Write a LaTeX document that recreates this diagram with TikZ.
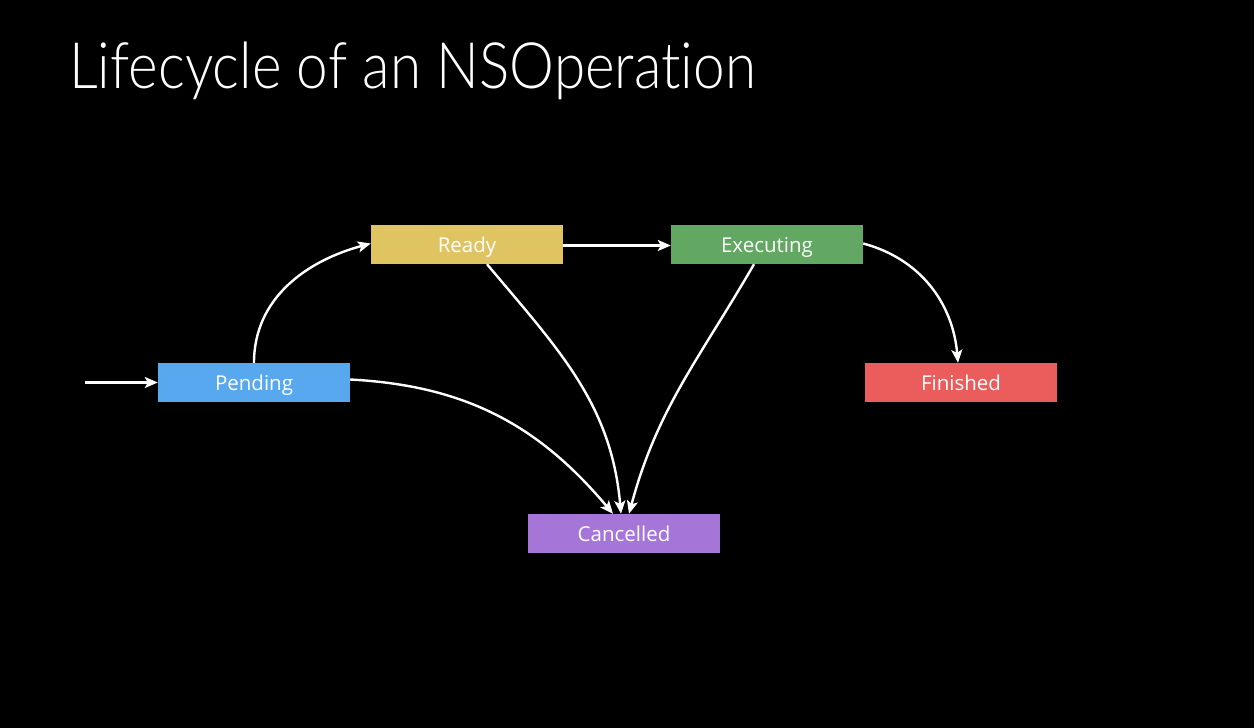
\documentclass[tikz,border=0pt]{standalone}
\usepackage{fontspec}
\setmainfont{Open Sans}
\newfontfamily\titlefont{Lato}[UprightFont=* Light, Ligatures=NoCommon]
\usetikzlibrary{arrows.meta}
\definecolor{pendingblue}{HTML}{58A8F0}
\definecolor{readyyellow}{HTML}{E0C462}
\definecolor{execgreen}{HTML}{63A862}
\definecolor{finishedred}{HTML}{EB5C5C}
\definecolor{cancelpurple}{HTML}{A575D8}
\tikzset{
  state/.style={minimum width=192pt, minimum height=39pt, inner sep=0pt,
    text height=16pt, text depth=0pt,
    text=white, font=\fontsize{20.5}{24}\selectfont},
  flow/.style={draw=white, line width=2.4pt,
    -{Stealth[length=13pt, width=11pt, inset=3pt]}},
}
\begin{document}
\begin{tikzpicture}[x=1pt, y=-1pt]
  \fill[black] (0,0) rectangle (1254,728);
  \node[anchor=base west, text=white, inner sep=0pt,
        font=\titlefont\fontsize{64}{70}\selectfont] (title) at (69,88)
        {\scalebox{0.885}[1]{Lifecycle of an NSOperation}};

  \node[state, fill=readyyellow]   (ready)     at (467,244.5) {Ready};
  \node[state, fill=execgreen]     (executing) at (767,244.5) {Executing};
  \node[state, fill=pendingblue]   (pending)   at (254,382.5) {Pending};
  \node[state, fill=finishedred]   (finished)  at (961,382.5) {Finished};
  \node[state, fill=cancelpurple]  (cancelled) at (624,533.5) {Cancelled};

  \coordinate (entry) at (85,382.5);
  \draw[flow] (entry) -- (pending.west);
  \draw[flow] (pending.north) to[out=90, in=195] ([yshift=1pt]ready.west);
  \draw[flow] ([yshift=-1pt]ready.east) -- ([yshift=-1pt]executing.west);
  \draw[flow] ([yshift=1pt]executing.east) to[out=-15, in=95] ([xshift=-3pt]finished.north);
  \draw[flow] ([yshift=3pt]pending.east) to[out=-3, in=130] ([xshift=-11pt]cancelled.north);
  \draw[flow] ([xshift=20pt]ready.south) to[out=-50, in=95] ([xshift=-3pt]cancelled.north);
  \draw[flow] ([xshift=-13pt]executing.south) to[out=-120, in=75] ([xshift=5pt]cancelled.north);
\end{tikzpicture}
\end{document}
